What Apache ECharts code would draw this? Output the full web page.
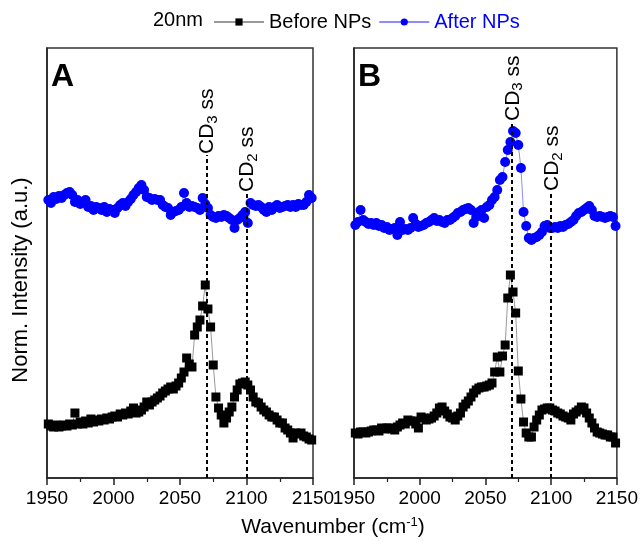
<!DOCTYPE html>
<html><head><meta charset="utf-8">
<script src="https://cdn.jsdelivr.net/npm/echarts@6/dist/echarts.min.js"></script>
<style>html,body{margin:0;padding:0;background:#fff}#c{width:641px;height:546px}</style>
</head><body><div id="c"></div>
<script>
const wavenumbers = [
1951,1953,1955,1957,1959,1961,1963,1965,1967,1969,
1971,1973,1975,1977,1979,1981,1983,1985,1987,1989,
1991,1993,1995,1997,1999,2001,2003,2005,2007,2009,
2011,2013,2015,2017,2019,2021,2023,2025,2027,2029,
2031,2033,2035,2037,2039,2041,2043,2045,2047,2049,
2051,2053,2055,2057,2059,2061,2063,2065,2067,2069,
2071,2073,2075,2077,2079,2081,2083,2085,2087,2089,
2091,2093,2095,2097,2099,2101,2103,2105,2107,2109,
2111,2113,2115,2117,2119,2121,2123,2125,2127,2129,
2131,2133,2135,2137,2139,2141,2143,2145,2147,2149];

const A_before = [
54,52,51,53,51,52,53,52,54,53,
65,54,56,54,57,55,59,56,58,57,
59,58,60,59,61,62,61,64,63,65,
64,67,70,65,66,68,71,76,73,76,
78,80,82,85,87,89,91,89,92,95,
100,106,120,114,111,143,151,158,172,193,
169,151,113,81,70,63,55,60,66,71,
81,88,94,95,96,93,88,81,76,75,
71,68,66,63,61,61,58,55,55,50,
48,45,40,45,44,45,42,41,39,38];

const A_after = [
278,275,281,279,282,280,283,285,286,283,
276,278,274,276,278,271,272,268,271,270,
268,271,266,269,268,265,270,273,275,272,
276,279,283,286,290,293,288,281,280,278,
279,278,278,273,271,270,263,266,267,268,
271,285,275,271,272,271,270,268,280,274,
270,263,261,260,262,261,263,262,260,258,
250,258,260,263,266,255,275,273,272,273,
271,268,266,271,268,271,273,270,271,272,
273,271,273,271,274,273,273,276,283,280];

const B_before = [
45,44,46,46,45,46,47,48,48,47,
50,49,50,50,49,48,51,53,55,54,
58,57,57,54,50,61,60,58,59,60,
62,65,70,71,67,64,61,60,58,62,
65,71,74,77,81,85,88,90,91,91,
92,93,95,106,121,106,122,133,180,203,
186,165,107,79,56,45,41,41,51,58,
63,68,69,70,70,68,67,65,64,62,
61,60,58,64,66,68,71,70,65,60,
55,50,46,45,44,43,43,41,41,35];

const B_after = [
253,256,268,258,256,254,255,253,255,252,
253,250,251,248,249,250,243,256,248,249,
248,250,260,254,251,252,253,255,256,258,
260,257,258,256,255,258,258,260,262,265,
266,268,269,270,268,255,261,266,268,260,
271,273,278,281,288,298,301,316,328,336,
347,345,333,310,266,252,240,238,240,241,
243,246,252,253,250,250,251,250,252,251,
253,254,256,258,262,265,266,268,270,272,
268,262,261,262,261,260,261,262,261,252];

const xTicks = [1950, 2000, 2050, 2100, 2150];
const peakPositions = [2070, 2100];
const peakLabels = [['CD', '3', ' ss'], ['CD', '2', ' ss']];
const lineTopsA = [323, 285];
const lineTopsB = [356, 286];
const panelLetters = ['A', 'B'];
const legendPrefix = '20nm';
const seriesNames = ['Before NPs', 'After NPs'];

const FONT = '"Liberation Sans", Arial, Helvetica, sans-serif';
const pair = arr => arr.map((v, i) => [wavenumbers[i], v]);

const chart = echarts.init(document.getElementById('c'), null, {renderer: 'canvas'});

const grids = [
  {left: 47, top: 48, width: 266, height: 430},
  {left: 354, top: 48, width: 265, height: 430}
];

function xAxisFor(i) {
  return {
    type: 'value', gridIndex: i, min: xTicks[0], max: xTicks[xTicks.length - 1], interval: 50,
    axisLine: {show: true, onZero: false, lineStyle: {color: '#222', width: 1.5}},
    axisTick: {show: true, inside: false, length: 7, lineStyle: {color: '#222', width: 1.5}},
    minorTick: {show: true, splitNumber: 2, length: 4, lineStyle: {color: '#222', width: 1.2}},
    axisLabel: {color: '#000', fontSize: 19, fontFamily: FONT, margin: 11,
      showMinLabel: true, showMaxLabel: true, formatter: v => String(v)},
    splitLine: {show: false}, minorSplitLine: {show: false}
  };
}
function yAxisFor(i) {
  return {
    type: 'value', gridIndex: i, min: 0, max: 430,
    axisLine: {show: true, lineStyle: {color: '#222', width: 1.5}},
    axisTick: {show: false}, axisLabel: {show: false}, splitLine: {show: false}
  };
}

function dashLines(tops) {
  return {
    silent: true, symbol: 'none', animation: false,
    lineStyle: {color: '#000', type: [4, 3], width: 2},
    label: {show: false},
    data: peakPositions.map((p, k) => [{coord: [p, 0]}, {coord: [p, tops[k]]}])
  };
}

function blackSeries(i, data, tops) {
  return {
    name: seriesNames[0], type: 'line', xAxisIndex: i, yAxisIndex: i,
    data: pair(data), symbol: 'rect', symbolSize: 9, showSymbol: true,
    itemStyle: {color: '#000'}, lineStyle: {color: '#9a9a9a', width: 1},
    animation: false, z: 3, markLine: dashLines(tops)
  };
}
function blueSeries(i, data) {
  return {
    name: seriesNames[1], type: 'line', xAxisIndex: i, yAxisIndex: i,
    data: pair(data), symbol: 'circle', symbolSize: 10, showSymbol: true,
    itemStyle: {color: '#0000ff'}, lineStyle: {color: '#8c8cff', width: 1},
    animation: false, z: 3
  };
}

chart.setOption({
  backgroundColor: '#fff',
  animation: false,
  grid: grids.map(g => Object.assign({show: true, borderColor: '#333', borderWidth: 1.5, backgroundColor: 'transparent'}, g)),
  xAxis: [xAxisFor(0), xAxisFor(1)],
  yAxis: [yAxisFor(0), yAxisFor(1)],
  legend: {
    top: 7, left: 208, itemWidth: 50, itemHeight: 9, itemGap: 7,
    textStyle: {fontSize: 20, fontFamily: FONT},
    data: [
      {name: seriesNames[0], textStyle: {color: '#000'}},
      {name: seriesNames[1], textStyle: {color: '#0000ff'}}
    ]
  },
  series: [
    blackSeries(0, A_before, lineTopsA), blueSeries(0, A_after),
    blackSeries(1, B_before, lineTopsB), blueSeries(1, B_after)
  ]
});

// annotations positioned through the chart's own coordinate system
const g = [];
[[0, lineTopsA], [1, lineTopsB]].forEach(([gi, tops]) => {
  peakPositions.forEach((p, k) => {
    const pt = chart.convertToPixel({gridIndex: gi}, [p, tops[k]]);
    const lab = peakLabels[k];
    g.push({
      type: 'text', x: pt[0] + 1, y: pt[1] - 1, rotation: Math.PI / 2,
      style: {
        text: lab[0] + '{s|' + lab[1] + '}' + lab[2],
        fontSize: 21, fontFamily: FONT, fill: '#000',
        align: 'left', verticalAlign: 'middle',
        rich: {s: {fontSize: 15, fontFamily: FONT, fill: '#000', padding: [11, 0, 0, 0]}}
      }, silent: true
    });
  });
  const corner = chart.convertToPixel({gridIndex: gi}, [xTicks[0], 430]);
  g.push({
    type: 'text', x: corner[0] + 4, y: corner[1] + 13,
    style: {text: panelLetters[gi], fontSize: 32, fontWeight: 'bold', fontFamily: FONT, fill: '#000'},
    silent: true
  });
});
g.push({
  type: 'text', x: 21, y: 280, rotation: Math.PI / 2,
  style: {text: 'Norm. Intensity (a.u.)', fontSize: 22, fontFamily: FONT, fill: '#000',
    align: 'center', verticalAlign: 'middle'}, silent: true
});
g.push({
  type: 'text', x: 333, y: 527,
  style: {text: 'Wavenumber (cm{u|-1})', fontSize: 21, fontFamily: FONT, fill: '#000',
    align: 'center', verticalAlign: 'middle',
    rich: {u: {fontSize: 13, fontFamily: FONT, fill: '#000', padding: [0, 0, 10, 0]}}}, silent: true
});
g.push({
  type: 'text', x: 203, y: 20,
  style: {text: legendPrefix, fontSize: 20, fontFamily: FONT, fill: '#000',
    align: 'right', verticalAlign: 'middle'}, silent: true
});
chart.setOption({graphic: g});
</script></body></html>
